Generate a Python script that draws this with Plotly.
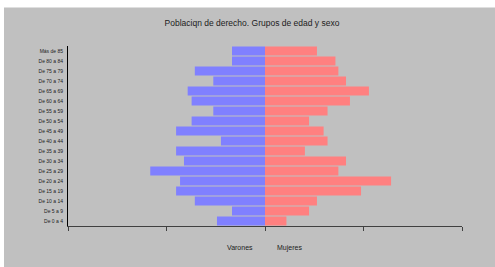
import plotly.graph_objects as go

age_groups = ["De 0 a 4", "De 5 a 9", "De 10 a 14", "De 15 a 19", "De 20 a 24",
              "De 25 a 29", "De 30 a 34", "De 35 a 39", "De 40 a 44", "De 45 a 49",
              "De 50 a 54", "De 55 a 59", "De 60 a 64", "De 65 a 69", "De 70 a 74",
              "De 75 a 79", "De 80 a 84", "Más de 85"]
varones = [1.95, 1.34, 2.85, 3.61, 3.45, 4.66, 3.29, 3.61, 1.79, 3.61,
           2.98, 2.10, 2.98, 3.14, 2.10, 2.85, 1.34, 1.34]
mujeres = [0.87, 1.79, 2.11, 3.90, 5.12, 2.98, 3.29, 1.62, 2.54, 2.38,
           1.79, 2.54, 3.45, 4.22, 3.29, 2.98, 2.86, 2.11]
x_ticks = [-8, -4, 0, 4, 8]
title_text = "Poblaciqn de derecho. Grupos de edad y sexo"

W, H = 495, 267
L, R, T, B = 68, 33, 45.5, 41
pw, ph = W - L - R, H - T - B

FONT = "Liberation Sans, Arial, sans-serif"

fig = go.Figure()
fig.add_trace(go.Bar(y=age_groups, x=[-v for v in varones], orientation="h",
                     name="Varones", marker=dict(color="#8080ff", line=dict(width=0))))
fig.add_trace(go.Bar(y=age_groups, x=mujeres, orientation="h",
                     name="Mujeres", marker=dict(color="#ff8080", line=dict(width=0))))

# gray panel background (paper coords relative to plot area)
fig.add_shape(type="rect", xref="paper", yref="paper", layer="below",
              x0=(4 - L) / pw, x1=(W - L) / pw,
              y0=(T + ph - H) / ph, y1=(T + ph - 7) / ph,
              fillcolor="#c0c0c0", line=dict(width=0))

fig.update_layout(
    width=W, height=H,
    margin=dict(l=L, r=R, t=T, b=B),
    paper_bgcolor="white", plot_bgcolor="rgba(0,0,0,0)",
    barmode="relative", bargap=0.1, showlegend=False,
    font=dict(family=FONT, color="#202020"),
    title=dict(text=title_text, x=252 / W, xanchor="center", y=1 - 23 / H, yanchor="middle",
               font=dict(size=8.5, family=FONT, color="#202020")),
    xaxis=dict(range=[-8, 8], tickvals=x_ticks, showticklabels=False, ticks="outside",
               ticklen=4, tickcolor="#404040", showgrid=False, zeroline=False,
               showline=True, linecolor="#404040", linewidth=1, fixedrange=True),
    xaxis2=dict(range=[-8, 8], tickvals=x_ticks, showticklabels=False, ticks="inside",
                ticklen=3, tickcolor="#404040", showgrid=False, zeroline=False,
                showline=False, overlaying="x", anchor="y", side="bottom", fixedrange=True),
    yaxis=dict(categoryorder="array", categoryarray=age_groups, showgrid=False,
               showline=True, linecolor="#000000", linewidth=1, ticks="",
               tickfont=dict(size=5, family=FONT, color="#202020"), ticklabelstandoff=3,
               zeroline=False, range=[-0.5, 17.5], fixedrange=True),
    annotations=[
        dict(text="Varones", xref="x", yref="paper", x=0, y=(T + ph - 248) / ph,
             xanchor="right", yanchor="middle", xshift=-10, showarrow=False,
             font=dict(size=7, family=FONT, color="#202020")),
        dict(text="Mujeres", xref="x", yref="paper", x=0, y=(T + ph - 248) / ph,
             xanchor="left", yanchor="middle", xshift=10, showarrow=False,
             font=dict(size=7, family=FONT, color="#202020")),
    ],
)

fig.write_html("out.html", config={"displayModeBar": False},
               post_script="document.body.style.margin='0';")
